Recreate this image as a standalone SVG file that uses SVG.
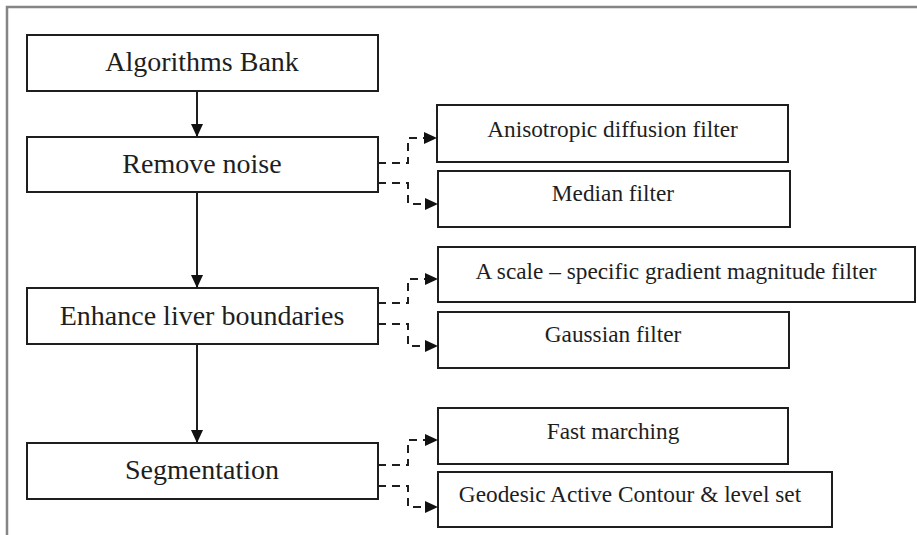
<svg xmlns="http://www.w3.org/2000/svg" width="917" height="535" viewBox="0 0 917 535">
<defs>
<style>
.box{fill:#fff;stroke:#1e1e1e;stroke-width:2}
.main{font-family:"Liberation Serif","Times New Roman",serif;font-size:28px;fill:#1e1e1e;text-anchor:middle}
.sub{font-family:"Liberation Serif","Times New Roman",serif;font-size:23.3px;fill:#1e1e1e;text-anchor:middle}
.solid{fill:none;stroke:#1e1e1e;stroke-width:2}
.dash{fill:none;stroke:#1e1e1e;stroke-width:2;stroke-dasharray:8,6}
.frame{fill:none;stroke:#858585;stroke-width:2.5}
</style>
<marker id="arr" markerUnits="userSpaceOnUse" markerWidth="14" markerHeight="12" viewBox="0 0 14 12" refX="13" refY="6" orient="auto">
<path d="M0,0 L13,6 L0,12 Z" fill="#111"/>
</marker>
</defs>
<rect width="917" height="535" fill="#fff"/>
<path class="frame" d="M7,535 V7 H917"/>
<g id="algorithms-bank"><rect class="box" x="27" y="35" width="351" height="56"/><text class="main" x="202" y="71">Algorithms Bank</text></g>
<g id="remove-noise"><rect class="box" x="27" y="137" width="351" height="55"/><text class="main" x="202" y="173">Remove noise</text></g>
<g id="enhance"><rect class="box" x="27" y="288" width="351" height="56"/><text class="main" x="202" y="325">Enhance liver boundaries</text></g>
<g id="segmentation"><rect class="box" x="27" y="443" width="351" height="56"/><text class="main" x="202" y="479">Segmentation</text></g>
<g id="anisotropic"><rect class="box" x="437" y="105" width="351" height="57"/><text class="sub" x="612.5" y="137">Anisotropic diffusion filter</text></g>
<g id="median"><rect class="box" x="438" y="171" width="352" height="56"/><text class="sub" x="613" y="201">Median filter</text></g>
<g id="gradient"><rect class="box" x="438" y="247" width="477" height="55"/><text class="sub" x="676" y="279">A scale – specific gradient magnitude filter</text></g>
<g id="gaussian"><rect class="box" x="438" y="312" width="351" height="56"/><text class="sub" x="613" y="342">Gaussian filter</text></g>
<g id="fast-marching"><rect class="box" x="438" y="408" width="350" height="56"/><text class="sub" x="613" y="439">Fast marching</text></g>
<g id="geodesic"><rect class="box" x="438" y="472" width="394" height="55"/><text class="sub" x="630" y="502">Geodesic Active Contour &amp; level set</text></g>
<g id="connectors">
<path class="solid" d="M197,91 V137" marker-end="url(#arr)"/>
<path class="solid" d="M197,192 V288" marker-end="url(#arr)"/>
<path class="solid" d="M197,344 V443" marker-end="url(#arr)"/>
<path class="dash" d="M378,163 H408 V138 H437" marker-end="url(#arr)"/>
<path class="dash" d="M378,183 H408 V204 H438" marker-end="url(#arr)"/>
<path class="dash" d="M378,303 H408 V279 H438" marker-end="url(#arr)"/>
<path class="dash" d="M378,324 H408 V346 H438" marker-end="url(#arr)"/>
<path class="dash" d="M378,465 H408 V440 H438" marker-end="url(#arr)"/>
<path class="dash" d="M378,486 H408 V507 H438" marker-end="url(#arr)"/>
</g>
</svg>
